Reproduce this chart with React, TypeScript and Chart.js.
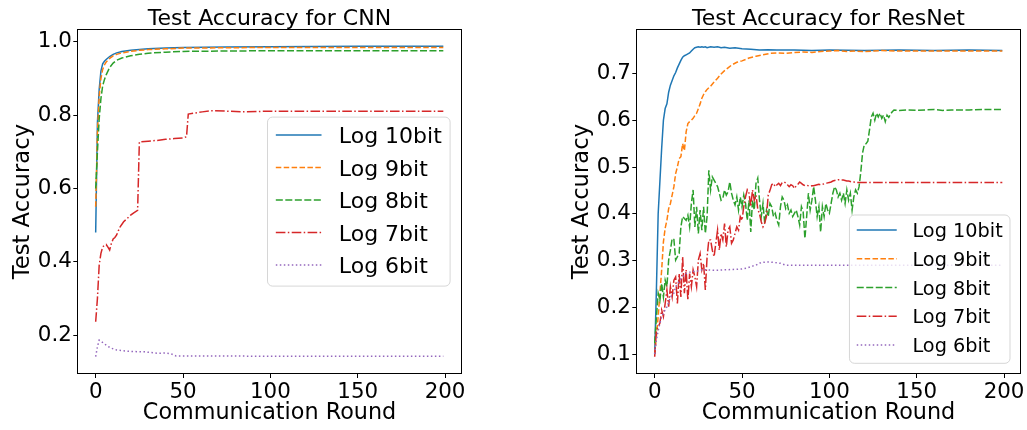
import React, { useEffect, useRef } from "react";
import { Chart, registerables } from "chart.js";

Chart.register(...registerables);

type Pt = [number, number];

const FONT = '"DejaVu Sans"';

const seriesLabels = ["Log 10bit", "Log 9bit", "Log 8bit", "Log 7bit", "Log 6bit"];
const seriesColors = ["#1f77b4", "#ff7f0e", "#2ca02c", "#d62728", "#9467bd"];
const seriesDashes: number[][] = [[], [5.5, 2.4], [7, 2.5], [9.6, 2.4, 1.5, 2.4], [1.5, 2.5]];

const xTicks = [0, 50, 100, 150, 200];
const cnnYTicks = [0.2, 0.4, 0.6, 0.8, 1.0];
const resnetYTicks = [0.1, 0.2, 0.3, 0.4, 0.5, 0.6, 0.7];

// CNN runs as [round, accuracy]
const cnnLog10: Pt[] = [
  [0, 0.48], [1, 0.78], [2, 0.87], [3, 0.92], [4, 0.94], [5, 0.947], [6, 0.952], [8, 0.96],
  [10, 0.966], [12, 0.97], [15, 0.974], [20, 0.977], [25, 0.979], [30, 0.981], [40, 0.983],
  [50, 0.985], [75, 0.986], [100, 0.987], [150, 0.988], [199, 0.988],
];
const cnnLog9: Pt[] = [
  [0, 0.55], [1, 0.75], [2, 0.85], [3, 0.9], [4, 0.925], [5, 0.937], [6, 0.945], [8, 0.955],
  [10, 0.962], [12, 0.966], [15, 0.97], [20, 0.974], [25, 0.977], [30, 0.979], [40, 0.981],
  [50, 0.983], [100, 0.985], [150, 0.985], [199, 0.985],
];
const cnnLog8: Pt[] = [
  [0, 0.6], [1, 0.7], [2, 0.79], [3, 0.845], [4, 0.88], [5, 0.897], [6, 0.91], [8, 0.93],
  [10, 0.942], [12, 0.95], [15, 0.956], [20, 0.962], [25, 0.966], [30, 0.969], [40, 0.972],
  [50, 0.974], [100, 0.976], [150, 0.976], [199, 0.976],
];
const cnnLog7: Pt[] = [
  [0, 0.236], [1, 0.3], [2, 0.39], [3, 0.423], [4, 0.44], [5, 0.445], [6, 0.447], [7, 0.44],
  [8, 0.432], [9, 0.45], [10, 0.462], [11, 0.466], [12, 0.473], [13, 0.485], [14, 0.495],
  [16, 0.509], [18, 0.518], [20, 0.527], [22, 0.534], [24, 0.54], [25, 0.727], [30, 0.729],
  [35, 0.731], [40, 0.734], [45, 0.736], [50, 0.738], [52, 0.741], [53, 0.803], [57, 0.806],
  [61, 0.809], [66, 0.812], [75, 0.811], [84, 0.809], [100, 0.811], [150, 0.811], [199, 0.811],
];
const cnnLog6: Pt[] = [
  [0, 0.141], [1, 0.168], [2, 0.186], [3, 0.183], [5, 0.176], [7, 0.169], [9, 0.164],
  [12, 0.159], [16, 0.157], [20, 0.155], [28, 0.154], [32, 0.152], [36, 0.15], [40, 0.151],
  [43, 0.149], [46, 0.143], [60, 0.143], [100, 0.142], [150, 0.142], [199, 0.142],
];

// ResNet runs: accuracy per round from round 0, then a sparse [round, accuracy] tail
const resnetLog10Head = [
  0.1, 0.24, 0.4, 0.47, 0.54, 0.6, 0.625, 0.635, 0.66, 0.675, 0.685, 0.695, 0.702, 0.712, 0.72,
  0.728, 0.735, 0.738, 0.74, 0.742, 0.744, 0.748, 0.752, 0.755, 0.756, 0.757, 0.756, 0.757,
  0.756, 0.757, 0.755,
];
const resnetLog10Tail: Pt[] = [
  [32, 0.757], [34, 0.756], [36, 0.757], [38, 0.755], [40, 0.756], [43, 0.754], [46, 0.755],
  [50, 0.753], [55, 0.752], [60, 0.75], [65, 0.751], [70, 0.75], [80, 0.75], [90, 0.749],
  [100, 0.75], [120, 0.749], [140, 0.75], [160, 0.749], [180, 0.75], [199, 0.749],
];
const resnetLog9Head = [
  0.1, 0.14, 0.18, 0.23, 0.28, 0.34, 0.369, 0.386, 0.411, 0.422, 0.44, 0.458, 0.486, 0.5, 0.518,
  0.522, 0.55, 0.535, 0.575, 0.593, 0.597, 0.6, 0.604, 0.61, 0.615, 0.625, 0.635, 0.647, 0.655,
  0.661, 0.666,
];
const resnetLog9Tail: Pt[] = [
  [32, 0.673], [34, 0.682], [36, 0.69], [38, 0.699], [40, 0.706], [42, 0.712], [44, 0.718],
  [47, 0.724], [50, 0.727], [54, 0.733], [58, 0.737], [62, 0.74], [66, 0.743], [70, 0.744],
  [75, 0.743], [80, 0.745], [85, 0.746], [90, 0.745], [95, 0.747], [100, 0.748], [105, 0.749],
  [110, 0.747], [115, 0.748], [120, 0.747], [130, 0.749], [140, 0.748], [160, 0.748],
  [180, 0.748], [199, 0.748],
];
const resnetLog8Head = [
  0.123, 0.18, 0.23, 0.215, 0.251, 0.222, 0.258, 0.244, 0.301, 0.322,
  0.347, 0.345, 0.301, 0.308, 0.315, 0.372, 0.394, 0.39, 0.386, 0.397,
  0.372, 0.422, 0.451, 0.372, 0.415, 0.358, 0.408, 0.365, 0.415, 0.358,
  0.394, 0.493, 0.451, 0.479, 0.472, 0.465, 0.458, 0.444, 0.429, 0.433,
  0.451, 0.44, 0.447, 0.468, 0.444, 0.429, 0.419, 0.436, 0.408, 0.436,
  0.415, 0.44, 0.422, 0.386, 0.429, 0.361, 0.429, 0.408, 0.465, 0.476,
  0.429, 0.394, 0.422, 0.379, 0.408, 0.394, 0.422, 0.415, 0.394, 0.401,
  0.386, 0.376, 0.415, 0.436, 0.429, 0.411, 0.419, 0.401, 0.408, 0.394,
  0.401, 0.408, 0.394, 0.376, 0.415, 0.404, 0.347, 0.394, 0.444, 0.408,
  0.429, 0.458, 0.429, 0.394, 0.415, 0.361, 0.415, 0.394, 0.422, 0.408,
  0.401, 0.422, 0.444, 0.458, 0.451, 0.436, 0.444, 0.429, 0.444, 0.422,
  0.451, 0.429, 0.444, 0.408, 0.436, 0.451, 0.444, 0.458, 0.49, 0.53,
  0.548, 0.55, 0.555, 0.58, 0.607, 0.615, 0.6, 0.615, 0.607, 0.615,
  0.604, 0.611, 0.597, 0.611, 0.606, 0.613, 0.618, 0.622,
];
const resnetLog8Tail: Pt[] = [
  [140, 0.621], [145, 0.622], [150, 0.621], [155, 0.622], [160, 0.623], [165, 0.621],
  [170, 0.622], [180, 0.622], [190, 0.623], [199, 0.623],
];
const resnetLog7Head = [
  0.094, 0.151, 0.158, 0.166, 0.194, 0.18, 0.208, 0.237, 0.201, 0.244,
  0.222, 0.258, 0.265, 0.208, 0.272, 0.222, 0.308, 0.23, 0.28, 0.215,
  0.272, 0.244, 0.28, 0.265, 0.244, 0.301, 0.315, 0.28, 0.294, 0.237,
  0.308, 0.344, 0.344, 0.322, 0.308, 0.337, 0.365, 0.322, 0.358, 0.344,
  0.379, 0.329, 0.365, 0.372, 0.337, 0.344, 0.358, 0.372, 0.365, 0.394,
  0.386, 0.415, 0.436, 0.451, 0.444, 0.415, 0.451, 0.429, 0.44, 0.41,
  0.4, 0.383, 0.372, 0.38, 0.395, 0.44, 0.45, 0.462, 0.465, 0.458,
  0.462, 0.465, 0.46, 0.467, 0.468, 0.466, 0.462, 0.458, 0.462, 0.46,
  0.454, 0.46, 0.463, 0.468, 0.465, 0.462, 0.46, 0.461, 0.46, 0.459,
  0.46, 0.46, 0.461, 0.462, 0.463, 0.462, 0.463, 0.464, 0.465, 0.466,
  0.467, 0.468, 0.47, 0.471, 0.472, 0.473, 0.473, 0.472, 0.472, 0.471,
  0.47, 0.47, 0.469, 0.468, 0.468, 0.467, 0.467, 0.467, 0.467, 0.467, 0.467,
];
const resnetLog7Tail: Pt[] = [[140, 0.467], [160, 0.467], [180, 0.467], [199, 0.467]];
const resnetLog6Head = [
  0.1, 0.13, 0.15, 0.166, 0.18, 0.187, 0.195, 0.201, 0.21, 0.222, 0.226, 0.23, 0.244, 0.25,
  0.255, 0.262, 0.265, 0.27, 0.272, 0.273, 0.275, 0.276, 0.277, 0.276, 0.277, 0.278, 0.279,
  0.28, 0.279, 0.28, 0.28,
];
const resnetLog6Tail: Pt[] = [
  [35, 0.279], [40, 0.28], [45, 0.281], [50, 0.282], [53, 0.284], [56, 0.288], [58, 0.29],
  [61, 0.296], [65, 0.297], [68, 0.296], [72, 0.294], [75, 0.29], [85, 0.29], [100, 0.29],
  [120, 0.29], [140, 0.29], [160, 0.29], [180, 0.29], [199, 0.29],
];

const fromPairs = (pts: Pt[]) => pts.map(([x, y]) => ({ x, y }));
const fromRounds = (head: number[], tail: Pt[]) =>
  head.map((y, x) => ({ x, y })).concat(fromPairs(tail));

const cnnSeries = [cnnLog10, cnnLog9, cnnLog8, cnnLog7, cnnLog6].map(fromPairs);
const resnetSeries = [
  fromRounds(resnetLog10Head, resnetLog10Tail),
  fromRounds(resnetLog9Head, resnetLog9Tail),
  fromRounds(resnetLog8Head, resnetLog8Tail),
  fromRounds(resnetLog7Head, resnetLog7Tail),
  fromRounds(resnetLog6Head, resnetLog6Tail),
];

// Black box around the plotting area
const axesFrame = {
  id: "axesFrame",
  afterDatasetsDraw(chart: any) {
    const { ctx, chartArea } = chart;
    const l = Math.round(chartArea.left) - 0.5;
    const t = Math.round(chartArea.top) - 0.5;
    const r = Math.round(chartArea.right) + 0.5;
    const b = Math.round(chartArea.bottom) + 0.5;
    ctx.save();
    ctx.strokeStyle = "#000";
    ctx.lineWidth = 1;
    ctx.strokeRect(l, t, r - l, b - t);
    ctx.restore();
  },
};

// Legend drawn inside the plotting area, using each dataset's line style
const insetLegend = {
  id: "insetLegend",
  afterDraw(chart: any, _args: any, opts: any) {
    const { ctx, chartArea } = chart;
    const items = chart.data.datasets;
    const fs = opts.fontSize;
    ctx.save();
    ctx.font = `${fs}px ${FONT}`;
    const textW = Math.max(...items.map((d: any) => ctx.measureText(d.label).width));
    const w = opts.padX * 2 + opts.handleLength + opts.textGap + textW;
    const h = opts.padTop + (items.length - 1) * opts.rowGap + opts.padBottom;
    const x = chartArea.right - opts.margin - w;
    const y =
      opts.loc === "center right"
        ? (chartArea.top + chartArea.bottom) / 2 - h / 2
        : chartArea.bottom - opts.margin - h;
    const rad = 5;
    ctx.beginPath();
    ctx.moveTo(x + rad, y);
    ctx.arcTo(x + w, y, x + w, y + h, rad);
    ctx.arcTo(x + w, y + h, x, y + h, rad);
    ctx.arcTo(x, y + h, x, y, rad);
    ctx.arcTo(x, y, x + w, y, rad);
    ctx.closePath();
    ctx.fillStyle = "rgba(255,255,255,0.8)";
    ctx.fill();
    ctx.strokeStyle = "rgba(204,204,204,0.8)";
    ctx.lineWidth = 1;
    ctx.stroke();
    items.forEach((d: any, i: number) => {
      const cy = y + opts.padTop + i * opts.rowGap;
      ctx.save();
      ctx.setLineDash(d.borderDash || []);
      ctx.strokeStyle = d.borderColor;
      ctx.lineWidth = d.borderWidth;
      ctx.beginPath();
      ctx.moveTo(x + opts.padX, cy);
      ctx.lineTo(x + opts.padX + opts.handleLength, cy);
      ctx.stroke();
      ctx.restore();
      ctx.fillStyle = "#000";
      ctx.textBaseline = "alphabetic";
      ctx.textAlign = "left";
      ctx.fillText(d.label, x + opts.padX + opts.handleLength + opts.textGap, cy + 0.364 * fs);
    });
    ctx.restore();
  },
};

function buildConfig(
  title: string,
  series: { x: number; y: number }[][],
  yMin: number,
  yMax: number,
  yTicks: number[],
  padRight: number,
  legend: any
): any {
  return {
    type: "line",
    data: {
      datasets: series.map((data, i) => ({
        label: seriesLabels[i],
        data,
        borderColor: seriesColors[i],
        borderDash: seriesDashes[i],
        borderWidth: 1.5,
        pointRadius: 0,
        tension: 0,
        fill: false,
        order: series.length - i,
      })),
    },
    options: {
      responsive: false,
      animation: false,
      events: [],
      layout: { padding: { left: 0, right: padRight, top: 0, bottom: 0 } },
      plugins: {
        legend: { display: false },
        tooltip: { enabled: false },
        title: {
          display: true,
          text: title,
          fullSize: false,
          color: "#000",
          font: { family: FONT, size: 22, weight: "normal", lineHeight: 1 },
          padding: { top: 8.2, bottom: 0 },
        },
        insetLegend: legend,
      },
      scales: {
        x: {
          type: "linear",
          min: -9.95,
          max: 208.95,
          afterBuildTicks: (s: any) => {
            s.ticks = xTicks.map((v) => ({ value: v }));
          },
          afterFit: (s: any) => {
            s.height = 57;
          },
          grid: { display: true, drawOnChartArea: false, drawTicks: true, tickLength: 5, tickColor: "#000", tickWidth: 1 },
          border: { display: false },
          ticks: {
            color: "#000",
            padding: 2,
            maxRotation: 0,
            autoSkip: false,
            font: { family: FONT, size: 21.4 },
            callback: (v: number) => String(v),
          },
          title: {
            display: true,
            text: "Communication Round",
            color: "#000",
            font: { family: FONT, size: 22.3, lineHeight: 1.2 },
            padding: { top: 0, bottom: 3.2 },
          },
        },
        y: {
          type: "linear",
          min: yMin,
          max: yMax,
          afterBuildTicks: (s: any) => {
            s.ticks = yTicks.map((v) => ({ value: v }));
          },
          afterFit: (s: any) => {
            s.width = 78.3;
          },
          grid: { display: true, drawOnChartArea: false, drawTicks: true, tickLength: 5, tickColor: "#000", tickWidth: 1 },
          border: { display: false },
          ticks: {
            color: "#000",
            padding: 1.5,
            autoSkip: false,
            font: { family: FONT, size: 21.4 },
            callback: (v: number) => v.toFixed(1),
          },
          title: {
            display: true,
            text: "Test Accuracy",
            color: "#000",
            font: { family: FONT, size: 22.7, lineHeight: 1.2 },
            padding: { top: 9.5, bottom: 0 },
          },
        },
      },
    },
    plugins: [axesFrame, insetLegend],
  };
}

function AccuracyChart({ left, width, config }: { left: number; width: number; config: any }) {
  const ref = useRef<HTMLCanvasElement>(null);
  useEffect(() => {
    const chart = new Chart(ref.current as HTMLCanvasElement, config);
    return () => chart.destroy();
  }, [config]);
  return (
    <canvas
      ref={ref}
      width={width}
      height={430}
      style={{ position: "absolute", left, top: 0, width, height: 430 }}
    />
  );
}

const cnnConfig = buildConfig("Test Accuracy for CNN", cnnSeries, 0.0963, 1.0319, cnnYTicks, 559 - 460.7, {
  loc: "center right",
  fontSize: 22,
  margin: 10.6,
  padX: 8.3,
  handleLength: 45.7,
  textGap: 17.3,
  padTop: 18,
  rowGap: 32.5,
  padBottom: 21,
});

const resnetConfig = buildConfig("Test Accuracy for ResNet", resnetSeries, 0.0594, 0.7926, resnetYTicks, 468 - 460.7, {
  loc: "lower right",
  fontSize: 19.3,
  margin: 9.7,
  padX: 7.3,
  handleLength: 40,
  textGap: 15.7,
  padTop: 15,
  rowGap: 28.75,
  padBottom: 18.3,
});

export default function App() {
  return (
    <div style={{ position: "absolute", left: 0, top: 0, width: 1027, height: 430, background: "#fff" }}>
      <AccuracyChart left={0} width={559} config={cnnConfig} />
      <AccuracyChart left={559} width={468} config={resnetConfig} />
    </div>
  );
}
